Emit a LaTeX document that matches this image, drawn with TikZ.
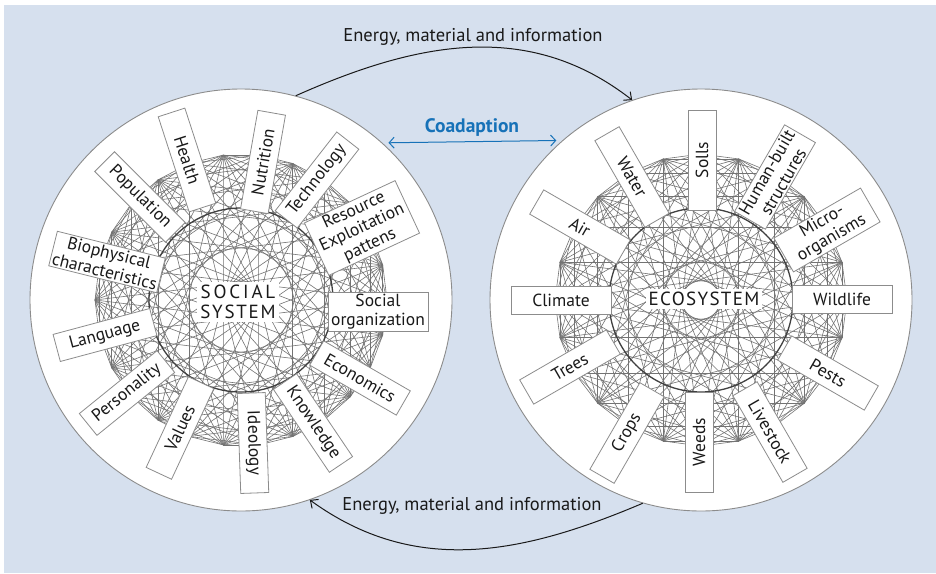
\documentclass[tikz,border=0pt]{standalone}
\usepackage{fontspec}
\setmainfont{PT Sans}
\usetikzlibrary{arrows.meta}

\definecolor{panelblue}{RGB}{214,224,238}
\definecolor{coadblue}{RGB}{23,114,184}
\definecolor{boxgray}{RGB}{140,140,140}

\tikzset{
  system/.style={circle, draw=black!45, fill=white, line width=0.9pt, minimum size=422pt, inner sep=0pt},
  web/.style={black!55, line width=0.6pt},
  darkring/.style={black!75, line width=1.3pt},
  factor/.style={draw=boxgray, fill=white, line width=0.8pt, minimum width=100pt, minimum height=28pt,
    inner sep=2pt, align=center, text=black!90, font=\fontsize{17.5}{19}\selectfont},
  hub/.style={fill=white, inner sep=3pt, align=center, text=black!90, font=\fontsize{19}{20}\selectfont},
  note/.style={text=black!90, font=\fontsize{18.5}{20}\selectfont},
  flow/.style={-{Straight Barb[length=6pt,width=11pt]}, black!90, line width=1pt},
  coad/.style={{Straight Barb[length=5pt,width=11pt]}-{Straight Barb[length=5pt,width=11pt]},
    coadblue, line width=1pt, shorten <=6pt, shorten >=6pt},
}

\begin{document}
\begin{tikzpicture}[x=1pt,y=1pt]
 \useasboundingbox (0,0) rectangle (936,-573);
 \fill[panelblue] (4,-5) rectangle (936,-573);

 % the two systems
 \node[system] (social) at (241,-300) {};
 \node[system] (eco) at (701,-300) {};

 % webs of interactions
 \begin{scope}[shift={(social.center)}]
   \foreach \i in {0,...,25}
     \foreach \k in {1,2,4,6,8,10,12}
       \draw[web] (\i*360/26:146) -- (\i*360/26+\k*360/26:146);
   \draw[darkring] (0,0) circle (92);
 \end{scope}
 \begin{scope}[shift={(eco.center)}]
   \foreach \i in {0,...,23}
     \foreach \k in {1,2,4,6,8,10,11}
       \draw[web] (\i*15:146) -- (\i*15+\k*15:146);
   \draw[darkring] (0,0) circle (92);
 \end{scope}

 % social system
 \node[factor, rotate=-72] (health) at (187,-160) {Health};
 \node[factor, rotate=80] (nutrition) at (263,-162) {Nutrition};
 \node[factor, rotate=52] (technology) at (317,-180) {Technology};
 \node[factor, rotate=25] (resource) at (362,-228) {Resource\\Exploitation\\pattens};
 \node[factor] (organization) at (378,-312) {Social\\organization};
 \node[factor, rotate=-30] (economics) at (360,-378) {Economics};
 \node[factor, rotate=-56] (knowledge) at (313,-423) {Knowledge};
 \node[factor, rotate=-88] (ideology) at (253,-443) {Ideology};
 \node[factor, rotate=65] (values) at (180,-428) {Values};
 \node[factor, rotate=39] (personality) at (127,-393) {Personality};
 \node[factor, rotate=15] (language) at (105,-335) {Language};
 \node[factor, rotate=-14] (biophysical) at (107,-262) {Biophysical\\characteristics};
 \node[factor, rotate=-45] (population) at (140,-197) {Population};
 \node[hub] (socialname) at (238,-302)
   {{\addfontfeature{LetterSpace=15}SOCIAL}\\{\addfontfeature{LetterSpace=9}SYSTEM}};

 % ecosystem
 \node[factor, rotate=90] (soils) at (702,-160) {Solls};
 \node[factor, rotate=60] (structures) at (775,-177) {Human-built\\structures};
 \node[factor, rotate=30] (micro) at (827,-230) {Micro-\\organisms};
 \node[factor] (wildlife) at (842,-299) {Wildlife};
 \node[factor, rotate=-30] (pests) at (828,-373) {Pests};
 \node[factor, rotate=-60] (livestock) at (770,-432) {Livestock};
 \node[factor, rotate=90] (weeds) at (699,-442) {Weeds};
 \node[factor, rotate=60] (crops) at (627,-433) {Crops};
 \node[factor, rotate=30] (trees) at (570,-367) {Trees};
 \node[factor] (climate) at (561,-300) {Climate};
 \node[factor, rotate=-30] (air) at (580,-227) {Air};
 \node[factor, rotate=-60] (water) at (632,-177) {Water};
 \node[hub] (econame) at (704,-299) {\addfontfeature{LetterSpace=7}ECOSYSTEM};

 % exchanges
 \node[note] (topnote) at (473,-37) {Energy, material and information};
 \node[note] (botnote) at (472,-506) {Energy, material and information};
 \node[note, text=coadblue, font=\fontsize{19.5}{20}\selectfont\bfseries] (coadnote) at (472,-127) {Coadaption};
 \draw[flow] (social.75.6) to[out=24, in=142] (eco.109.5);
 \draw[flow] (eco.254) to[out=203, in=-36] (social.-71.6);
 \draw[coad] (social.48.5) -- (eco.131.5);
\end{tikzpicture}
\end{document}
